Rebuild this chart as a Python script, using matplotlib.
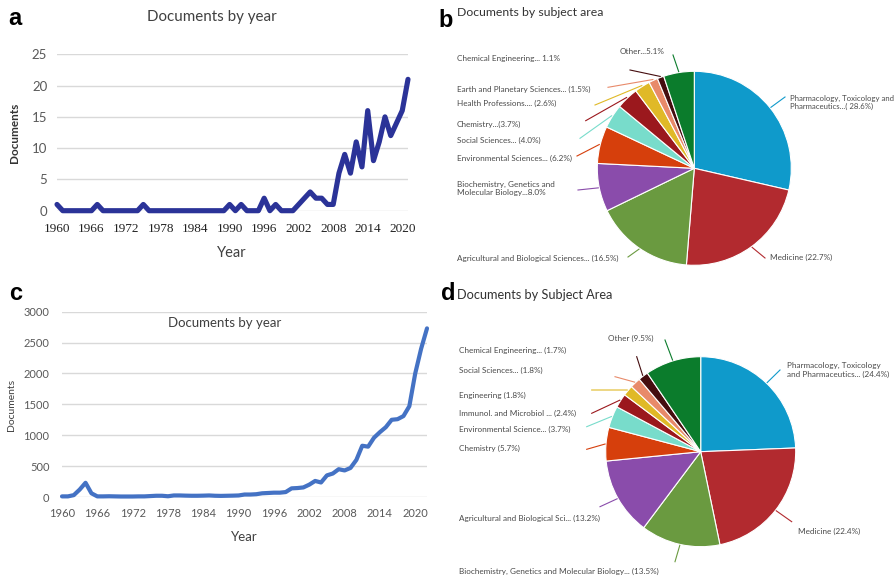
import matplotlib
matplotlib.use('Agg')
import matplotlib.pyplot as plt
import numpy as np

W, H = 895, 579

# ---------------- data ----------------
years_a = list(range(1960, 2022))
docs_a = [1, 0, 0, 0, 0, 0, 0, 1, 0, 0,
          0, 0, 0, 0, 0, 1, 0, 0, 0, 0,
          0, 0, 0, 0, 0, 0, 0, 0, 0, 0,
          1, 0, 1, 0, 0, 0, 2, 0, 1, 0,
          0, 0, 1, 2, 3, 2, 2, 1, 1, 6,
          9, 6, 11, 7, 16, 8, 11, 15, 12, 14,
          16, 21]

years_c = list(range(1960, 2023))
docs_c = [10, 10, 30, 120, 230, 60, 10, 10, 12, 10,
          8, 8, 8, 10, 10, 15, 20, 20, 12, 25,
          25, 22, 20, 20, 22, 25, 20, 18, 20, 22,
          25, 40, 40, 45, 60, 65, 70, 70, 80, 140,
          145, 155, 200, 260, 235, 350, 380, 450, 430, 470,
          600, 830, 815, 960, 1050, 1130, 1250, 1260, 1310, 1470,
          2000, 2400, 2730]

xticks_years = list(range(1960, 2021, 6))
yticks_a = [0, 5, 10, 15, 20, 25]
yticks_c = [0, 500, 1000, 1500, 2000, 2500, 3000]

share_b = [28.6, 22.7, 16.5, 8.0, 6.2, 4.0, 3.7, 2.6, 1.5, 1.1, 5.1]
labels_b = ["Pharmacology, Toxicology and\nPharmaceutics...( 28.6%)",
            "Medicine (22.7%)",
            "Agricultural and Biological Sciences... (16.5%)",
            "Biochemistry, Genetics and\nMolecular Biology...8.0%",
            "Environmental Sciences... (6.2%)",
            "Social Sciences... (4.0%)",
            "Chemistry...(3.7%)",
            "Health Professions.... (2.6%)",
            "Earth and Planetary Sciences... (1.5%)",
            "Chemical Engineering... 1.1%",
            "Other...5.1%"]

share_d = [24.4, 22.4, 13.5, 13.2, 5.7, 3.7, 2.4, 1.8, 1.8, 1.7, 9.5]
labels_d = ["Pharmacology, Toxicology\nand Pharmaceutics... (24.4%)",
            "Medicine (22.4%)",
            "Biochemistry, Genetics and Molecular Biology... (13.5%)",
            "Agricultural and Biological Sci... (13.2%)",
            "Chemistry (5.7%)",
            "Environmental Science... (3.7%)",
            "Immunol. and Microbiol ... (2.4%)",
            "Engineering (1.8%)",
            "Social Sciences... (1.8%)",
            "Chemical Engineering... (1.7%)",
            "Other (9.5%)"]

pie_colors = ["#0f9acb", "#b22a2f", "#6a9a40", "#8a4cab", "#d63f0c", "#78dccb",
              "#9b181d", "#e0b927", "#e88a6a", "#450d0f", "#0b7c2c"]

# ---------------- layout (pixel positions in the image) ----------------
label_pos_b = [(790, 102.5), (770, 257.5), (457, 258.5), (457, 188.7), (457, 158),
               (457, 140.7), (457, 124), (457, 103.3), (457, 89.3), (457, 58.3), (620, 51.7)]
leader_end_b = [(785, 97), (765, 258), (628, 257), (578, 190), (577, 156),
                (580, 138.3), (585.7, 120.7), (595, 105), (608, 87.3), (630, 70), (673, 55)]
size_b = [5.55] + [5.9] * 10
label_pos_d = [(786.7, 369.7), (798, 531.7), (459, 571.7), (459, 518.3), (459, 448.3),
               (459, 429), (459, 413.3), (459, 395), (459, 370), (459, 350.7), (608.3, 338.3)]
leader_end_d = [(780, 370), (791.7, 521.7), (675, 561.7), (600, 506.7), (586.7, 449.3),
                (586.7, 426.7), (591.7, 413.3), (591.7, 390), (615, 376.7), (636.7, 356.7), (665, 340)]
size_d = [5.9] * 11

SANS = ['Lato', 'DejaVu Sans']
TICK = '#595959'
TXT = '#404040'

fig = plt.figure(figsize=(W / 100, H / 100), dpi=100)
fig.patch.set_facecolor('white')


def fx(x):
    return x / W


def fy(y):
    return 1 - y / H


def style_line_axes(ax):
    for s in ax.spines.values():
        s.set_visible(False)
    ax.grid(axis='y', color='#d9d9d9', linewidth=1.0)
    ax.set_axisbelow(True)
    ax.tick_params(length=0)


# ---------------- panel a ----------------
ax_a = fig.add_axes([fx(57), fy(210.7), fx(408 - 57), (210.7 - 54.3) / H])
ax_a.plot(years_a, docs_a, color='#2b3398', linewidth=3.7, solid_joinstyle='round',
          solid_capstyle='round', clip_on=False, zorder=3)
ax_a.set_xlim(1960, 2021)
ax_a.set_ylim(0, 25)
ax_a.set_yticks(yticks_a)
ax_a.set_xticks(xticks_years)
style_line_axes(ax_a)
ax_a.tick_params(axis='y', pad=7, labelsize=9.5, labelcolor=TICK)
ax_a.tick_params(axis='x', pad=9, labelsize=9.5, labelcolor='#222222')
for t in ax_a.get_yticklabels():
    t.set_family(SANS)
for t in ax_a.get_xticklabels():
    t.set_family(['Liberation Serif', 'DejaVu Serif'])
fig.text(fx(212), fy(17), "Documents by year", ha='center', va='center',
         fontsize=10.9, color=TXT, family=SANS)
fig.text(fx(15), fy(133), "Documents", ha='center', va='center', rotation=90,
         fontsize=8.5, color='#333333', family=SANS, fontweight='bold')
fig.text(fx(232), fy(253), "Year", ha='center', va='center',
         fontsize=10.5, color=TXT, family=SANS)

# ---------------- panel c ----------------
ax_c = fig.add_axes([fx(62), fy(497), fx(427 - 62), (497 - 311.7) / H])
ax_c.plot(years_c, docs_c, color='#4472c4', linewidth=3.0, solid_joinstyle='round',
          solid_capstyle='round', clip_on=False, zorder=3)
ax_c.set_xlim(1960, 2022)
ax_c.set_ylim(0, 3000)
ax_c.set_yticks(yticks_c)
ax_c.set_xticks(xticks_years)
style_line_axes(ax_c)
ax_c.tick_params(axis='y', pad=9, labelsize=8, labelcolor=TICK)
ax_c.tick_params(axis='x', pad=8, labelsize=8, labelcolor=TICK)
for t in ax_c.get_yticklabels() + ax_c.get_xticklabels():
    t.set_family(SANS)
fig.text(fx(225), fy(323), "Documents by year", ha='center', va='center',
         fontsize=9.5, color=TXT, family=SANS)
fig.text(fx(12), fy(405), "Documents", ha='center', va='center', rotation=90,
         fontsize=7.5, color=TXT, family=SANS)
fig.text(fx(244), fy(537), "Year", ha='center', va='center',
         fontsize=9.5, color=TXT, family=SANS)

# ---------------- pies ----------------
ov = fig.add_axes([0, 0, 1, 1])
ov.set_facecolor('none')


def draw_pie(values, labels, center_img, radius, lpos, lend, sizes):
    cx, cy = center_img[0], H - center_img[1]
    wedges, _ = ov.pie(values, colors=pie_colors, startangle=90, counterclock=False,
                       center=(cx, cy), radius=radius,
                       wedgeprops=dict(edgecolor='white', linewidth=0.8))
    for w, lab, (tx, ty), (ex, ey), fs in zip(wedges, labels, lpos, lend, sizes):
        mid = np.deg2rad((w.theta1 + w.theta2) / 2)
        sx = cx + radius * 1.01 * np.cos(mid)
        sy = cy + radius * 1.01 * np.sin(mid)
        ov.plot([sx, ex], [sy, H - ey], color=w.get_facecolor(), linewidth=0.8)
        ov.text(tx, H - ty, lab, ha='left', va='center', fontsize=fs,
                color='#4a4a4a', family=SANS, linespacing=1.25)


draw_pie(share_b, labels_b, (694.3, 168.3), 97, label_pos_b, leader_end_b, size_b)
draw_pie(share_d, labels_d, (700.7, 451.7), 95, label_pos_d, leader_end_d, size_d)
ov.set_xlim(0, W)
ov.set_ylim(0, H)
ov.set_aspect('auto')
ov.axis('off')

fig.text(fx(457), fy(13), "Documents by subject area", ha='left', va='center',
         fontsize=8.8, color='#333333', family=SANS)
fig.text(fx(457), fy(295), "Documents by Subject Area", ha='left', va='center',
         fontsize=9.2, color='#333333', family=SANS)

# panel letters
for letter, (x, y) in zip("abcd", [(15, 25), (446, 27), (16, 300), (448, 300)]):
    fig.text(fx(x), fy(y), letter, ha='center', va='baseline', fontsize=17,
             fontweight='bold', family=['Liberation Sans', 'DejaVu Sans'], color='black')

fig.savefig('out.png', dpi=100, facecolor='white')
